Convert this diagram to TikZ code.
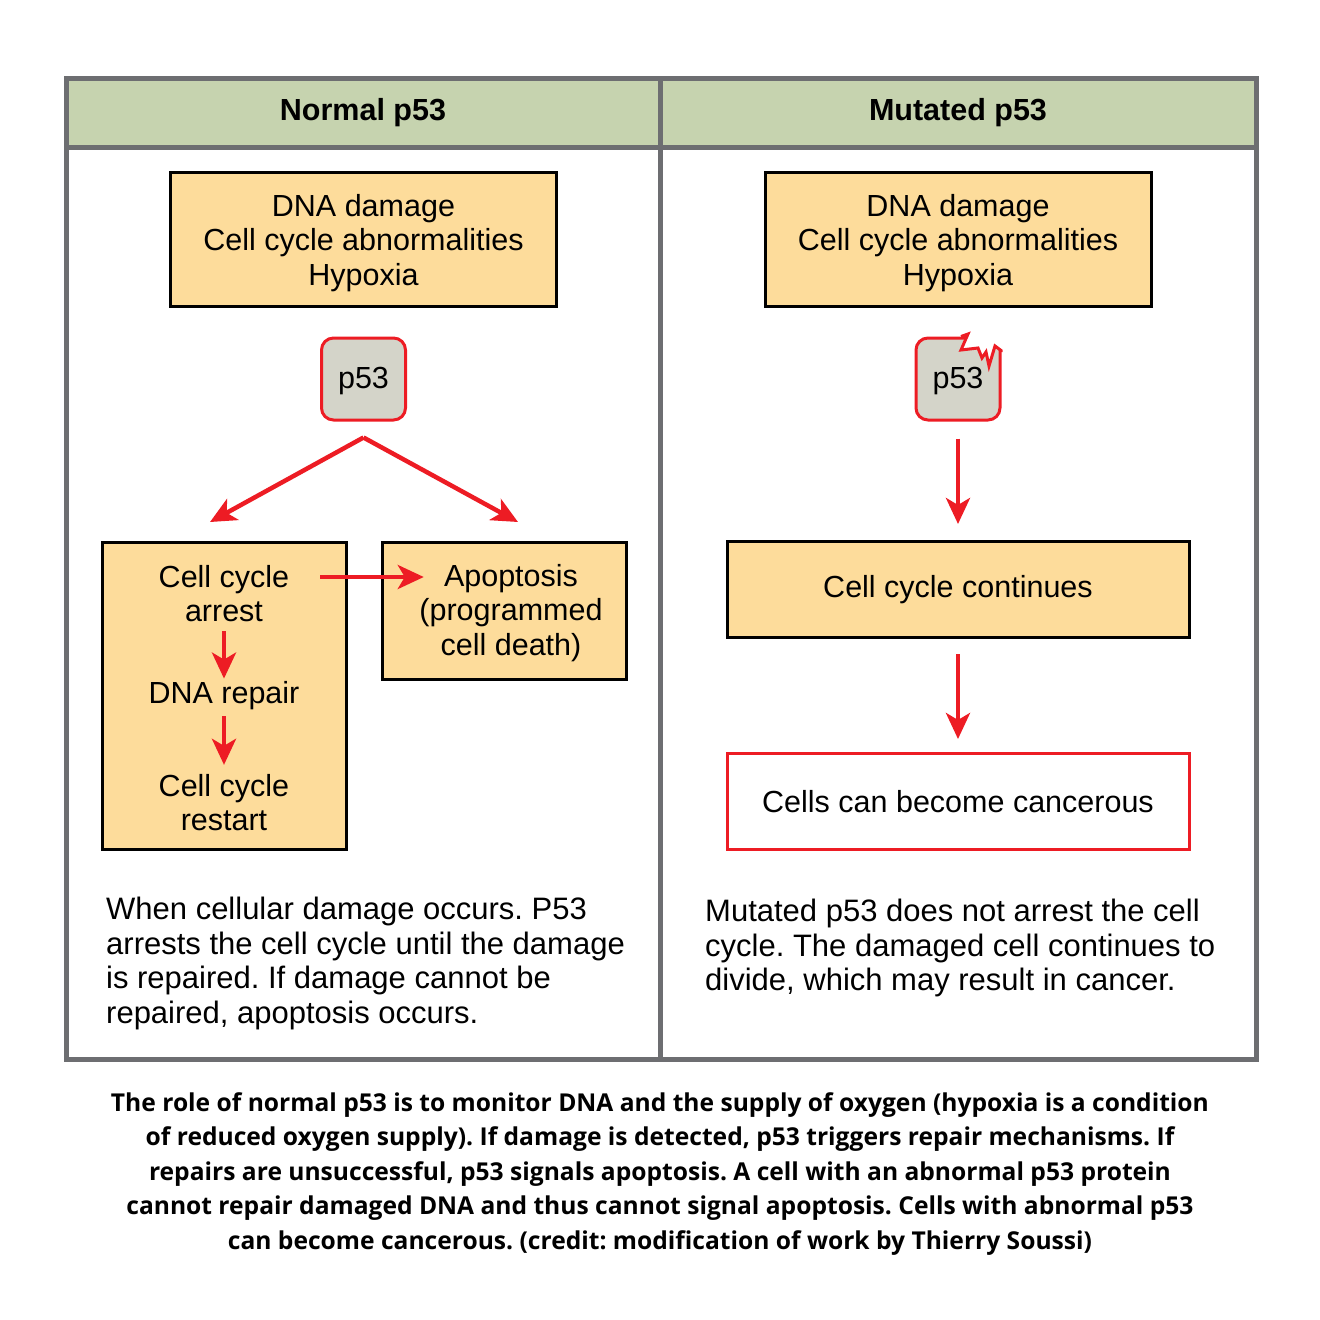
\documentclass[tikz,border=0pt]{standalone}
\usepackage{fontspec}
\setmainfont{Liberation Sans}
\newfontfamily\capfont{Open Sans}
\usetikzlibrary{arrows.meta}
\definecolor{framegray}{HTML}{6D6E71}
\definecolor{hdrgreen}{HTML}{C6D3AF}
\definecolor{boxorange}{HTML}{FDDC9B}
\definecolor{pgray}{HTML}{D4D4C9}
\definecolor{pred}{HTML}{ED1C24}
\begin{document}
\frenchspacing
\begin{tikzpicture}[x=1pt,y=-1pt,
  txt/.style={font=\fontsize{30.5}{34.5}\selectfont, align=center, inner sep=0pt},
  obox/.style={draw=black, line width=3pt, fill=boxorange, inner sep=0pt},
  rbox/.style={draw=pred, line width=3pt, fill=white, inner sep=0pt},
  pbox/.style={draw=pred, line width=3pt, fill=pgray, rounded corners=12pt, minimum width=84pt, minimum height=82pt, inner sep=0pt, text height=26pt, text depth=6.4pt, font=\fontsize{30.5}{34.5}\selectfont},
  arr/.style={draw=pred, line width=4.5pt, -{Stealth[length=26pt,width=24pt,inset=7pt]}},
  para/.style={font=\fontsize{31}{34.5}\selectfont, align=left, inner sep=0pt, anchor=north west},
  hdr/.style={font=\bfseries\fontsize{30.5}{34.5}\selectfont, inner sep=0pt},
]
\useasboundingbox (0,0) rectangle (1320,1320);
% frame
\fill[hdrgreen] (66,78) rectangle (1256,147);
\draw[framegray, line width=5pt] (66,78) rectangle (1256,1059);
\draw[framegray, line width=5pt] (66,147) -- (1256,147);
\draw[framegray, line width=5pt] (660,78) -- (660,1059);
\node[hdr] (h1) at (363,113) {Normal p53};
\node[hdr] (h2) at (958,113) {Mutated p53};

% left column
\node[obox, minimum width=386pt, minimum height=134pt] (d1) at (363.5,239.5) {};
\node[txt] (d1t) at (363.5,243) {DNA damage\\Cell cycle abnormalities\\Hypoxia};
\node[pbox] (p1) at (363.5,379) {p53};
\coordinate (la) at (210,522);
\coordinate (ra) at (518,522);
\draw[arr] ([yshift=-16pt]p1.south) -- (la);
\draw[arr] ([yshift=-16pt]p1.south) -- (ra);
\node[obox, minimum width=244pt, minimum height=307pt] (lb) at (224,695.5) {};
\node[obox, minimum width=244pt, minimum height=137pt] (ab) at (504,610.5) {};
\node[txt] (arrest) at (224,593.5) {Cell cycle\\arrest};
\node[txt] (repair) at (224,696) {DNA repair};
\node[txt] (restart) at (224,802.5) {Cell cycle\\restart};
\node[txt] (apt) at (511,613) {Apoptosis\\(programmed\\cell death)};
\draw[arr, shorten <=9pt, shorten >=3pt] (arrest) -- (repair);
\draw[arr, shorten <=6pt, shorten >=9pt] (repair) -- (restart);
\draw[arr] ([xshift=31pt,yshift=16.5pt]arrest.east) coordinate (hs) -- ([xshift=4.5pt]hs -| apt.west);
\node[para] (t1) at (106,897) {When cellular damage occurs. P53\\arrests the cell cycle until the damage\\is repaired. If damage cannot be\\repaired, apoptosis occurs.};

% right column
\node[obox, minimum width=386pt, minimum height=134pt] (d2) at (958,239.5) {};
\node[txt] (d2t) at (958,243) {DNA damage\\Cell cycle abnormalities\\Hypoxia};
\node[pbox] (p2) at (958,379) {p53};
\fill[white] (962,336) -- (968,334) -- (961,350) -- (978,348) -- (982,358) -- (986,352) -- (989,366) -- (995,346) -- (1000.5,350) -- (1004,350) -- (1004,333) -- (962,333) -- cycle;
\draw[pred, line width=3pt, line join=miter] (961,336.5) -- (968,334) -- (961,350) -- (978,348) -- (982,358) -- (986,352) -- (989,366) -- (995,346) -- (1001,350.5) -- (1001,352);
\node[obox, minimum width=462pt, minimum height=96pt, txt] (cont) at (958,589.5) {Cell cycle continues};
\node[rbox, minimum width=462pt, minimum height=96pt, txt] (canc) at (958,801.5) {Cells can become cancerous};
\draw[arr, shorten <=17pt, shorten >=16pt] (p2) -- (cont);
\draw[arr, shorten <=15pt, shorten >=13pt] (cont) -- (canc);
\node[para] (t2) at (705,899) {Mutated p53 does not arrest the cell\\cycle. The damaged cell continues to\\divide, which may result in cancer.};

% caption
\node[font=\capfont\bfseries\fontsize{24.6}{34.5}\selectfont, align=center, inner sep=0pt, anchor=north] (cap) at (660,1092) {The role of normal p53 is to monitor DNA and the supply of oxygen (hypoxia is a condition\\of reduced oxygen supply). If damage is detected, p53 triggers repair mechanisms. If\\repairs are unsuccessful, p53 signals apoptosis. A cell with an abnormal p53 protein\\cannot repair damaged DNA and thus cannot signal apoptosis. Cells with abnormal p53\\can become cancerous. (credit: modification of work by Thierry Soussi)};
\end{tikzpicture}
\end{document}
